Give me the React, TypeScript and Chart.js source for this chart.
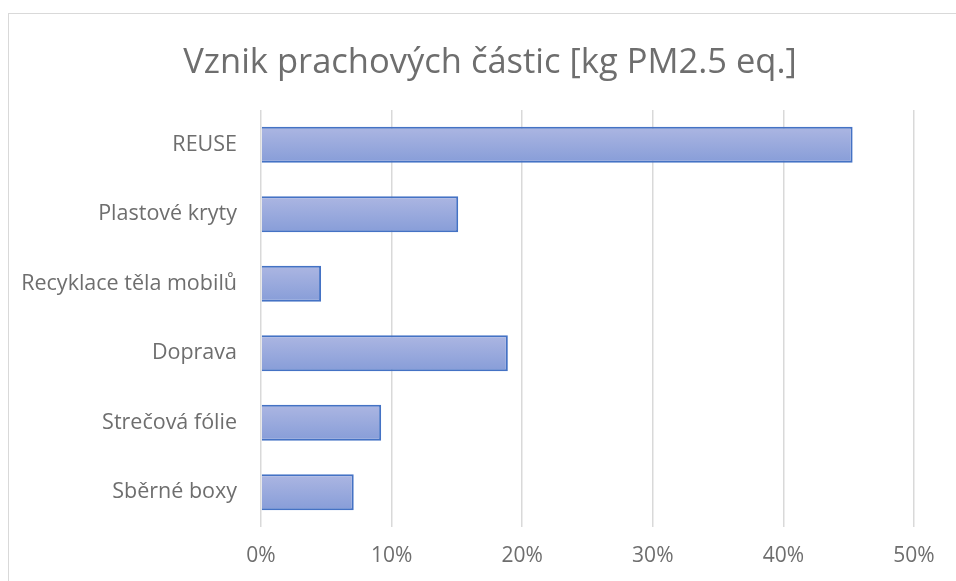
import React, { useEffect, useRef } from "react";
import { Chart, registerables } from "chart.js";

Chart.register(...registerables);

const categories = [
  "REUSE",
  "Plastové kryty",
  "Recyklace těla mobilů",
  "Doprava",
  "Strečová fólie",
  "Sběrné boxy",
];
const values = [0.453, 0.151, 0.046, 0.189, 0.092, 0.071];
const titleText = "Vznik prachových částic [kg PM2.5 eq.]";
const xMin = 0;
const xMax = 0.5;
const xStep = 0.1;

const FONT = "'Open Sans', Lato, sans-serif";
const BAR_PCT = 0.52;
const TEXT = "#6e6e6e";

function barGradient(ctx: any) {
  const chart = ctx.chart;
  const area = chart.chartArea;
  const yScale = chart.scales && chart.scales.y;
  if (!area || !yScale) return "rgb(155,170,221)";
  const center = yScale.getPixelForValue(ctx.dataIndex);
  const cat = (area.bottom - area.top) / categories.length;
  const h = cat * BAR_PCT;
  const g = chart.ctx.createLinearGradient(0, center - h / 2, 0, center + h / 2);
  g.addColorStop(0, "rgb(172,182,226)");
  g.addColorStop(1, "rgb(135,157,216)");
  return g;
}

// shift the title box so it is centred like the reference (Excel centres it slightly right)
const titleShift = {
  id: "titleShift",
  afterLayout(chart: any) {
    const tb = chart.titleBlock;
    if (tb) {
      tb.left = tb.left + 46;
    }
  },
};

export default function App() {
  const ref = useRef<HTMLCanvasElement>(null);
  useEffect(() => {
    if (!ref.current) return;
    const chart = new Chart(ref.current, {
      type: "bar",
      data: {
        labels: categories,
        datasets: [
          {
            data: values,
            backgroundColor: barGradient,
            borderColor: "#4472C4",
            borderWidth: 2,
            borderSkipped: "left",
            categoryPercentage: 1,
            barPercentage: BAR_PCT,
          },
        ],
      },
      options: {
        indexAxis: "y",
        animation: false,
        responsive: false,
        maintainAspectRatio: false,
        layout: { padding: { left: 20, right: 42, top: 42, bottom: 0 } },
        plugins: {
          legend: { display: false },
          tooltip: { enabled: false },
          title: {
            display: true,
            text: titleText,
            color: TEXT,
            font: { family: FONT, size: 34.5, weight: "normal", lineHeight: 1.2 },
            padding: { top: 0, bottom: 26.6 },
          },
        },
        scales: {
          x: {
            min: xMin,
            max: xMax,
            ticks: {
              stepSize: xStep,
              callback: (v: any) => Math.round(Number(v) * 100) + "%",
              color: TEXT,
              font: { family: FONT, size: 21 },
              padding: 16,
            },
            grid: { color: "#D9D9D9", lineWidth: 1.5, drawTicks: false },
            border: { display: false },
            afterFit: (s: any) => {
              s.height = 54;
            },
          },
          y: {
            ticks: {
              color: TEXT,
              font: { family: FONT, size: 21.5 },
              padding: 24,
            },
            grid: { display: false, drawTicks: false },
            border: { display: false },
            afterFit: (s: any) => {
              s.width = 241;
            },
          },
        },
      },
      plugins: [titleShift],
    });
    return () => chart.destroy();
  }, []);

  return (
    <div style={{ position: "fixed", left: 0, top: 0, width: 956, height: 581, overflow: "hidden", background: "#fff" }}>
      <div
        style={{
          position: "absolute",
          left: 8,
          top: 13,
          width: 1100,
          height: 800,
          border: "1px solid #D9D9D9",
        }}
      />
      <canvas ref={ref} width={956} height={581} style={{ position: "absolute", left: 0, top: 0 }} />
    </div>
  );
}
